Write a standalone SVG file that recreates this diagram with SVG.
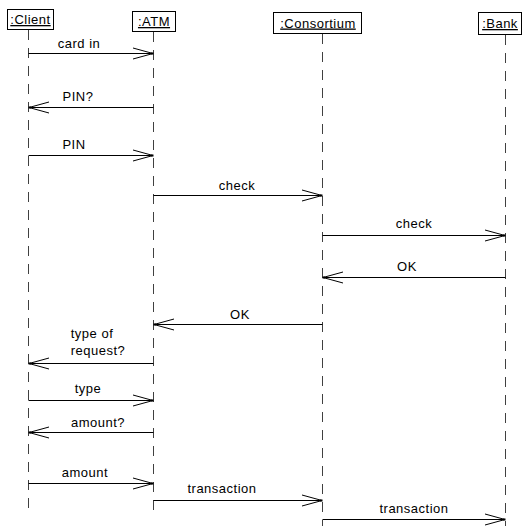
<svg xmlns="http://www.w3.org/2000/svg" width="522" height="526" viewBox="0 0 522 526">
<style>
.box{fill:#fff;stroke:#000;stroke-width:1}
.life{stroke:#404040;stroke-width:1;stroke-dasharray:10 8;fill:none}
.msg{stroke:#000;stroke-width:1;fill:none}
text{font-family:"Liberation Sans",Arial,sans-serif;font-size:13px;fill:#000;letter-spacing:0.5px}
.hd{text-decoration:underline}
</style>
<defs>
<marker id="open" markerWidth="22" markerHeight="14" refX="20" refY="7" orient="auto" markerUnits="userSpaceOnUse">
<path d="M0,1.5 L20,7 L0,12.5" fill="none" stroke="#000" stroke-width="1"/>
<rect x="18" y="6" width="2.5" height="2" fill="#000"/>
</marker>
</defs>
<g id="client">
<rect class="box" x="7.5" y="9.5" width="46" height="20"/>
<text class="hd" x="30.5" y="24" text-anchor="middle">:Client</text>
<line class="life" x1="28.5" y1="30" x2="28.5" y2="512"/>
</g>
<g id="atm">
<rect class="box" x="132.5" y="11.5" width="43" height="20"/>
<text class="hd" x="154" y="26" text-anchor="middle">:ATM</text>
<line class="life" x1="153.5" y1="32" x2="153.5" y2="510"/>
</g>
<g id="consortium">
<rect class="box" x="273.5" y="12.5" width="88" height="21"/>
<text class="hd" x="318" y="27.5" text-anchor="middle">:Consortium</text>
<line class="life" x1="322.5" y1="34" x2="322.5" y2="526"/>
</g>
<g id="bank">
<rect class="box" x="478.5" y="12.5" width="43" height="22"/>
<text class="hd" x="500" y="28" text-anchor="middle">:Bank</text>
<line class="life" x1="505.5" y1="35" x2="505.5" y2="526"/>
</g>
<g id="connectors">
<line class="msg" x1="28.5" y1="53.5" x2="153" y2="53.5" marker-end="url(#open)"/>
<text x="79" y="48" text-anchor="middle">card in</text>
<line class="msg" x1="153.5" y1="107.5" x2="29" y2="107.5" marker-end="url(#open)"/>
<text x="78" y="101" text-anchor="middle">PIN?</text>
<line class="msg" x1="28.5" y1="155.5" x2="153" y2="155.5" marker-end="url(#open)"/>
<text x="74" y="149" text-anchor="middle">PIN</text>
<line class="msg" x1="153.5" y1="195.5" x2="322" y2="195.5" marker-end="url(#open)"/>
<text x="237" y="190" text-anchor="middle">check</text>
<line class="msg" x1="322.5" y1="235.5" x2="505" y2="235.5" marker-end="url(#open)"/>
<text x="414" y="228" text-anchor="middle">check</text>
<line class="msg" x1="505.5" y1="277.5" x2="323" y2="277.5" marker-end="url(#open)"/>
<text x="407" y="271" text-anchor="middle">OK</text>
<line class="msg" x1="322.5" y1="324.5" x2="154" y2="324.5" marker-end="url(#open)"/>
<text x="240" y="319" text-anchor="middle">OK</text>
<line class="msg" x1="153.5" y1="363.5" x2="29" y2="363.5" marker-end="url(#open)"/>
<text x="92" y="338" text-anchor="middle">type of</text>
<text x="98" y="355" text-anchor="middle">request?</text>
<line class="msg" x1="28.5" y1="400.5" x2="153" y2="400.5" marker-end="url(#open)"/>
<text x="88" y="393" text-anchor="middle">type</text>
<line class="msg" x1="153.5" y1="432.5" x2="29" y2="432.5" marker-end="url(#open)"/>
<text x="98" y="427" text-anchor="middle">amount?</text>
<line class="msg" x1="28.5" y1="483.5" x2="153" y2="483.5" marker-end="url(#open)"/>
<text x="85" y="477" text-anchor="middle">amount</text>
<line class="msg" x1="153.5" y1="500.5" x2="322" y2="500.5" marker-end="url(#open)"/>
<text x="222" y="493" text-anchor="middle">transaction</text>
<line class="msg" x1="322.5" y1="519.5" x2="505" y2="519.5" marker-end="url(#open)"/>
<text x="414" y="513" text-anchor="middle">transaction</text>
</g>
</svg>
